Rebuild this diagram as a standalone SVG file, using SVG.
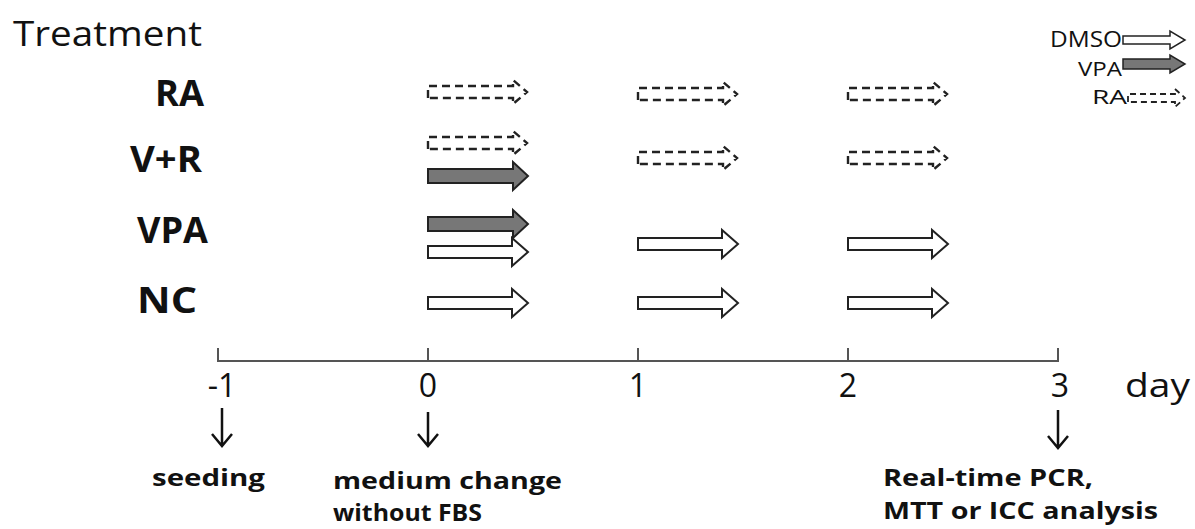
<svg xmlns="http://www.w3.org/2000/svg" width="1195" height="529" viewBox="0 0 1195 529">
  <style>
    .lbl { font-family: "Open Sans", "Liberation Sans", sans-serif; fill: #111; }
    .b { font-weight: bold; }
    .white { fill: #fff; stroke: #222; stroke-width: 2; }
    .gray { fill: #777; stroke: #222; stroke-width: 2; }
    .dash { fill: none; stroke: #222; stroke-width: 2.4; stroke-dasharray: 8 5; }
    .axis { fill: none; stroke: #555; stroke-width: 2; }
    .down { fill: none; stroke: #111; stroke-width: 2.5; }
  </style>
  <defs>
    <!-- block arrows: origin at left end of shaft, vertical centre -->
    <path id="blk" d="M0,-6 H84 V-14 L100,0 L84,14 V6 H0 Z"/>
    <path id="blkG" d="M0,-7 H85 V-14 L100,0 L85,14 V7 H0 Z"/>
    <path id="dsh" d="M0,6 V-6 H85 V-12 L99,0 L85,12 V6 Z"/>
    <!-- small legend arrows -->
    <path id="legW" d="M0,-4 H47 V-9 L62,0 L47,9 V4 H0 Z"/>
    <path id="legG" d="M0,-5 H47 V-9 L62,0 L47,9 V5 H0 Z"/>
    <path id="legD" d="M0,4 V-4 H47 V-9 L57,0 L47,9 V4 Z"/>
  </defs>

  <!-- headings and treatment group labels -->
  <g id="title">
    <text class="lbl" x="13" y="46" font-size="34" textLength="189" lengthAdjust="spacingAndGlyphs">Treatment</text>
  </g>
  <g id="group-RA">
    <text class="lbl b" x="155" y="106" font-size="35" textLength="49" lengthAdjust="spacingAndGlyphs">RA</text>
  </g>
  <g id="group-VR">
    <text class="lbl b" x="130" y="172" font-size="35" textLength="72" lengthAdjust="spacingAndGlyphs">V+R</text>
  </g>
  <g id="group-VPA">
    <text class="lbl b" x="137" y="243" font-size="35" textLength="71" lengthAdjust="spacingAndGlyphs">VPA</text>
  </g>
  <g id="group-NC">
    <text class="lbl b" x="137" y="313" font-size="35" textLength="60" lengthAdjust="spacingAndGlyphs">NC</text>
  </g>

  <!-- legend -->
  <g id="legend">
    <text class="lbl" x="1122" y="47" font-size="21" text-anchor="end" textLength="72" lengthAdjust="spacingAndGlyphs">DMSO</text>
    <use href="#legW" x="1123" y="40" class="white" style="stroke-width:1.5"/>
    <text class="lbl" x="1122" y="76" font-size="20" text-anchor="end" textLength="44" lengthAdjust="spacingAndGlyphs">VPA</text>
    <use href="#legG" x="1123" y="64" class="gray" style="stroke-width:1.5"/>
    <text class="lbl" x="1127" y="104" font-size="20" text-anchor="end" textLength="35" lengthAdjust="spacingAndGlyphs">RA</text>
    <use href="#legD" x="1128" y="98" class="dash" style="stroke-width:1.8;stroke-dasharray:6 4"/>
  </g>

  <!-- treatment arrows per row and day -->
  <g id="connectors">
    <!-- RA -->
    <use href="#dsh" x="428" y="92" class="dash"/>
    <use href="#dsh" x="638" y="94" class="dash"/>
    <use href="#dsh" x="848" y="94" class="dash"/>
    <!-- V+R -->
    <use href="#dsh" x="428" y="143" class="dash"/>
    <use href="#blkG" x="428" y="176" class="gray"/>
    <use href="#dsh" x="638" y="158" class="dash"/>
    <use href="#dsh" x="848" y="158" class="dash"/>
    <!-- VPA -->
    <use href="#blkG" x="428" y="224" class="gray"/>
    <use href="#blk" x="428" y="252" class="white"/>
    <use href="#blk" x="638" y="244" class="white"/>
    <use href="#blk" x="848" y="244" class="white"/>
    <!-- NC -->
    <use href="#blk" x="428" y="303" class="white"/>
    <use href="#blk" x="638" y="303" class="white"/>
    <use href="#blk" x="848" y="303" class="white"/>

    <!-- time axis -->
    <path class="axis" d="M218,348 V361 H1058 V348 M428,348 V361 M638,348 V361 M848,348 V361"/>

    <!-- event markers -->
    <path class="down" d="M222,408 V445 M212,434 L222,446 L232,434"/>
    <path class="down" d="M428,412 V445 M418,434 L428,446 L438,434"/>
    <path class="down" d="M1058,410 V447 M1048,436 L1058,448 L1068,436"/>
  </g>

  <!-- axis labels -->
  <g id="axis-labels">
    <text class="lbl" x="222" y="397" font-size="32" text-anchor="middle">-1</text>
    <text class="lbl" x="428" y="397" font-size="32" text-anchor="middle">0</text>
    <text class="lbl" x="638" y="397" font-size="32" text-anchor="middle">1</text>
    <text class="lbl" x="848" y="397" font-size="32" text-anchor="middle">2</text>
    <text class="lbl" x="1060" y="397" font-size="32" text-anchor="middle">3</text>
    <text class="lbl" x="1125" y="397" font-size="32" textLength="65" lengthAdjust="spacingAndGlyphs">day</text>
  </g>

  <!-- event descriptions -->
  <g id="event-seeding">
    <text class="lbl b" x="152" y="486" font-size="24" textLength="113" lengthAdjust="spacingAndGlyphs">seeding</text>
  </g>
  <g id="event-medium">
    <text class="lbl b" x="333" y="489" font-size="23" textLength="229" lengthAdjust="spacingAndGlyphs">medium change</text>
    <text class="lbl b" x="333" y="521" font-size="23" textLength="149" lengthAdjust="spacingAndGlyphs">without FBS</text>
  </g>
  <g id="event-analysis">
    <text class="lbl b" x="883" y="486" font-size="24" textLength="210" lengthAdjust="spacingAndGlyphs">Real-time PCR,</text>
    <text class="lbl b" x="883" y="519" font-size="24" textLength="275" lengthAdjust="spacingAndGlyphs">MTT or ICC analysis</text>
  </g>
</svg>
